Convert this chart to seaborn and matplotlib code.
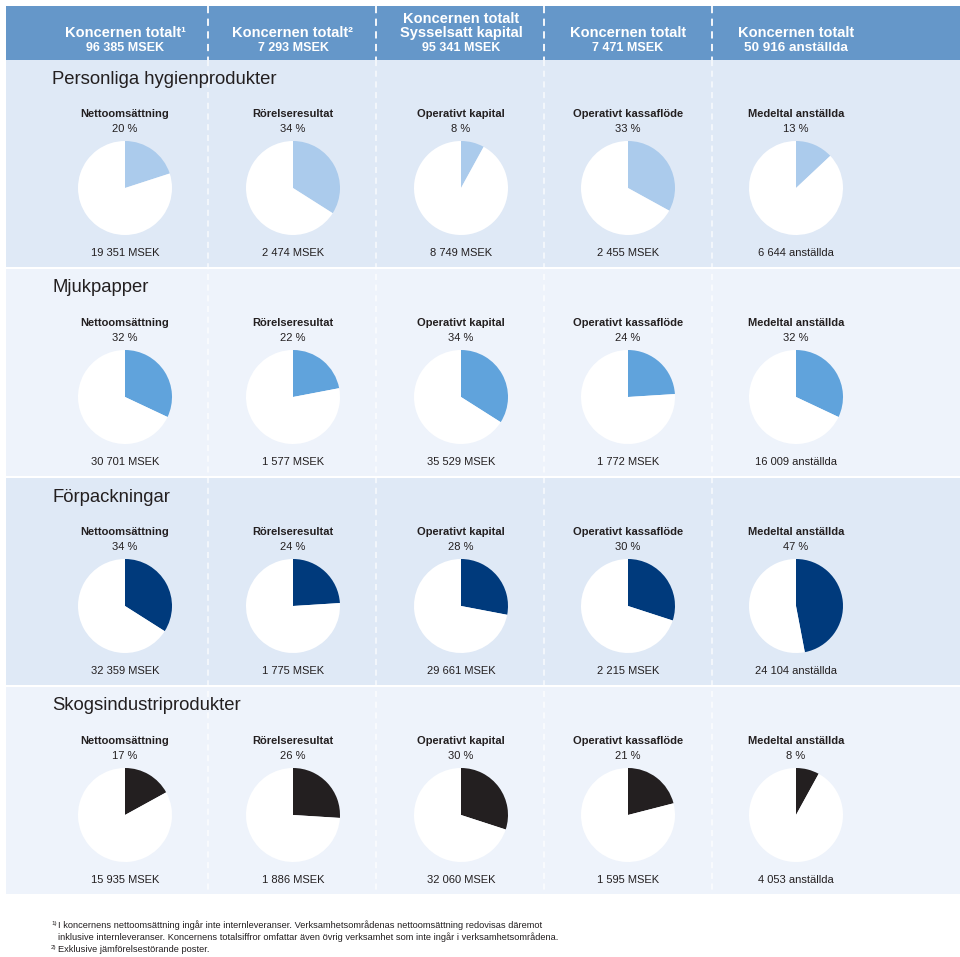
import matplotlib
matplotlib.use("Agg")
import matplotlib.pyplot as plt
import seaborn as sns
from matplotlib.patches import Rectangle

# Data
header_lines = [
    ['Koncernen totalt¹', '96 385 MSEK'],
    ['Koncernen totalt²', '7 293 MSEK'],
    ['Koncernen totalt', 'Sysselsatt kapital', '95 341 MSEK'],
    ['Koncernen totalt', '7 471 MSEK'],
    ['Koncernen totalt', '50 916 anställda'],
]
sektioner = ['Personliga hygienprodukter', 'Mjukpapper', 'Förpackningar', 'Skogsindustriprodukter']
nyckeltal = ['Nettoomsättning', 'Rörelseresultat', 'Operativt kapital',
             'Operativt kassaflöde', 'Medeltal anställda']
andelar = [
    [20, 34, 8, 33, 13],
    [32, 22, 34, 24, 32],
    [34, 24, 28, 30, 47],
    [17, 26, 30, 21, 8],
]
belopp = [
    ['19 351 MSEK', '2 474 MSEK', '8 749 MSEK', '2 455 MSEK', '6 644 anställda'],
    ['30 701 MSEK', '1 577 MSEK', '35 529 MSEK', '1 772 MSEK', '16 009 anställda'],
    ['32 359 MSEK', '1 775 MSEK', '29 661 MSEK', '2 215 MSEK', '24 104 anställda'],
    ['15 935 MSEK', '1 886 MSEK', '32 060 MSEK', '1 595 MSEK', '4 053 anställda'],
]
fotnoter = [
    ('1)', 'I koncernens nettoomsättning ingår inte internleveranser. Verksamhetsområdenas nettoomsättning redovisas däremot'),
    ('', 'inklusive internleveranser. Koncernens totalsiffror omfattar även övrig verksamhet som inte ingår i verksamhetsområdena.'),
    ('2)', 'Exklusive jämförelsestörande poster.'),
]

sns.set_theme(style='white')
plt.rcParams['font.family'] = ['Liberation Sans', 'DejaVu Sans']

farger = sns.color_palette(['#abcbec', '#60a3dc', '#003a7c', '#231f20'])
bg_farger = ['#dfe9f6', '#eef3fb', '#dfe9f6', '#eef3fb']
header_farg = '#6597c9'
text_farg = '#231f20'

W, H = 960, 957
fig = plt.figure(figsize=(9.6, 9.57), dpi=100)
bg = fig.add_axes([0, 0, 1, 1])
bg.set_xlim(0, W)
bg.set_ylim(H, 0)
bg.axis('off')

col_x = [125, 293, 461, 628, 796]
gransar = [208, 376, 544, 712]
sek_top = [60, 269, 478, 687]
sek_h = 207
r = 47

# header
bg.add_patch(Rectangle((6, 6), W - 6, 54, color=header_farg, lw=0))
for i, lines in enumerate(header_lines):
    ys = [33, 48] if len(lines) == 2 else [19, 33, 48]
    for j, (txt, y) in enumerate(zip(lines, ys)):
        last = j == len(lines) - 1
        size = 10.5 if not last else (9.7 if 'anst' in txt else 9)
        bg.text(col_x[i], y, txt, ha='center', va='center', color='white',
                fontsize=size, fontweight='bold')

for s, namn in enumerate(sektioner):
    top = sek_top[s]
    bg.add_patch(Rectangle((6, top), W - 6, sek_h, color=bg_farger[s], lw=0))
    bg.text(52, top + 19, namn, ha='left', va='center', fontsize=13.3,
            color=text_farg)
    for c in range(5):
        cx = col_x[c]
        bg.text(cx, top + 54, nyckeltal[c], ha='center', va='center',
                fontsize=8, fontweight='bold', color=text_farg)
        bg.text(cx, top + 69, f'{andelar[s][c]} %', ha='center', va='center',
                fontsize=8, color=text_farg)
        bg.text(cx, top + 193, belopp[s][c], ha='center', va='center',
                fontsize=8, color=text_farg)
        cy = top + 128
        ax = fig.add_axes([(cx - r) / W, 1 - (cy + r) / H, 2 * r / W, 2 * r / H])
        p = andelar[s][c]
        ax.pie([p, 100 - p], colors=[farger[s], 'white'], startangle=90,
               counterclock=False, wedgeprops={'linewidth': 0})
        ax.set_xlim(-1, 1)
        ax.set_ylim(-1, 1)
        ax.axis('off')

# dashed separators
for gx in gransar:
    bg.plot([gx, gx], [6, 60], color='white', lw=1.3, ls=(0, (4, 3)))
    bg.plot([gx, gx], [60, sek_top[-1] + sek_h], color='white', lw=1.1,
            ls=(0, (4, 3)), alpha=0.8)

# footnotes
for k, (sup, txt) in enumerate(fotnoter):
    y = 925 + k * 12.5
    if sup:
        bg.text(51, y - 2, sup, ha='left', va='center', fontsize=4.5, color=text_farg)
    bg.text(58, y, txt, ha='left', va='center', fontsize=6.7, color=text_farg)

fig.savefig('out.png', dpi=100, facecolor='white')
